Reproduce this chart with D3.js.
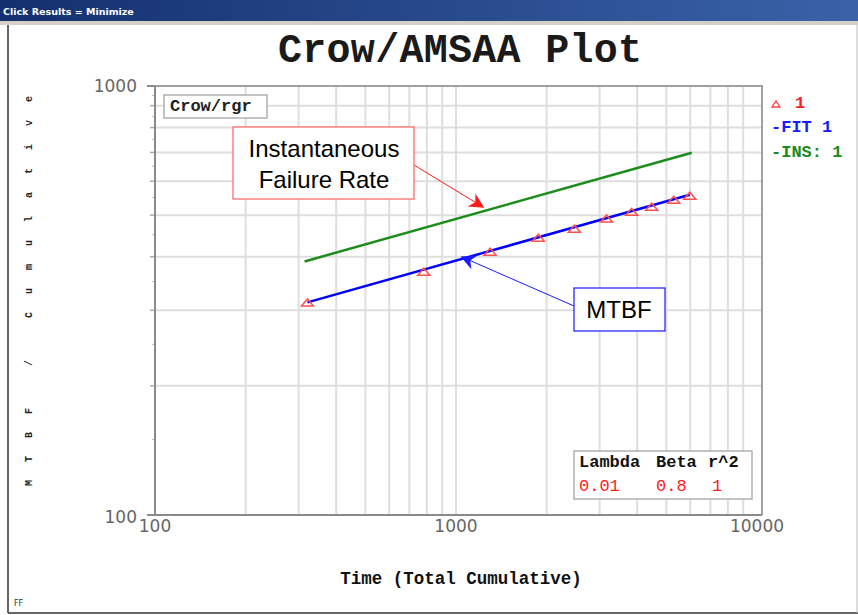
<!DOCTYPE html>
<html>
<head>
<meta charset="utf-8">
<script src="https://cdn.jsdelivr.net/npm/d3@7"></script>
<style>
  body { margin: 0; background: #fff; }
  svg { display: block; }
</style>
</head>
<body>
<div id="chart"></div>
<script>
// observed points (Time, cumulative MTBF)
const timeVals = [321, 782, 1298, 1876, 2474, 3162, 3831, 4467, 5289, 5979];
const mtbfVals = [313, 369, 411, 443, 465, 491, 509, 523, 543, 555];
// fitted line and instantaneous line end points
const fitTime = [321, 5979];
const fitMtbf = [313, 558];
const insTime = [314, 6070];
const insMtbf = [390, 699];
const xTicks = [100, 1000, 10000];
const yTicks = [100, 1000];
const xGrid = [200, 300, 400, 500, 600, 700, 800, 900, 1000, 2000, 3000, 4000, 5000, 6000, 7000, 8000, 9000];
const yGrid = [200, 300, 400, 500, 600, 700, 800, 900];
const yMinor = [150, 250, 350, 450, 550, 650, 750, 850, 950];
const paramNames = ["Lambda", "Beta", "r^2"];
const paramVals = ["0.01", "0.8", "1"];

const width = 858, height = 615;
const mono = "'Liberation Mono', 'Courier New', monospace";
const svg = d3.select("#chart").append("svg")
    .attr("width", width)
    .attr("height", height);

// window chrome
const defs = svg.append("defs");
const grad = defs.append("linearGradient").attr("id", "bar");
grad.append("stop").attr("offset", "0%").attr("stop-color", "#14306e");
grad.append("stop").attr("offset", "100%").attr("stop-color", "#3a62a8");
svg.append("rect").attr("x", 0).attr("y", 0).attr("width", width).attr("height", 21).attr("fill", "url(#bar)");
svg.append("rect").attr("x", 0).attr("y", 21).attr("width", width).attr("height", 4).attr("fill", "#d4d0c8");
svg.append("text").attr("x", 3).attr("y", 15)
    .attr("font-family", "Tahoma, 'DejaVu Sans', sans-serif").attr("font-size", 9.5).attr("font-weight", "bold")
    .attr("fill", "#fff").text("Click Results = Minimize");
svg.append("line").attr("x1", 8).attr("x2", 8).attr("y1", 25).attr("y2", 613).attr("stroke", "#333").attr("stroke-width", 1.5);
svg.append("line").attr("x1", 8).attr("x2", width).attr("y1", 613).attr("y2", 613).attr("stroke", "#333").attr("stroke-width", 1.5);
svg.append("line").attr("x1", 857).attr("x2", 857).attr("y1", 25).attr("y2", 613).attr("stroke", "#bbb");

const m = { left: 155, right: 757, top: 86, bottom: 515, frameRight: 762 };
const x = d3.scaleLog().domain([100, 10000]).range([m.left, m.right]);
const y = d3.scaleLog().domain([100, 1000]).range([m.bottom, m.top]);

// title
svg.append("text").attr("x", 460).attr("y", 62).attr("text-anchor", "middle")
    .attr("font-family", mono).attr("font-size", 40).attr("font-weight", "bold")
    .attr("textLength", 364).attr("fill", "#1a1a1a").text("Crow/AMSAA Plot");

// grid
svg.selectAll(".vgrid").data(xGrid).enter().append("line")
    .attr("x1", d => x(d)).attr("x2", d => x(d))
    .attr("y1", m.top).attr("y2", m.bottom)
    .attr("stroke", "#dedede").attr("stroke-width", 2);
svg.selectAll(".hgrid").data(yGrid).enter().append("line")
    .attr("x1", m.left).attr("x2", m.frameRight)
    .attr("y1", d => y(d)).attr("y2", d => y(d))
    .attr("stroke", "#dedede").attr("stroke-width", 2);
svg.selectAll(".hgridtick").data(yGrid).enter().append("line")
    .attr("x1", m.left - 5).attr("x2", m.left)
    .attr("y1", d => y(d)).attr("y2", d => y(d))
    .attr("stroke", "#aaa").attr("stroke-width", 1.5);
svg.selectAll(".yminor").data(yMinor).enter().append("line")
    .attr("x1", m.left - 3).attr("x2", m.left)
    .attr("y1", d => y(d)).attr("y2", d => y(d))
    .attr("stroke", "#bbb").attr("stroke-width", 1);

// frame
svg.append("path")
    .attr("d", `M${m.left},${m.bottom}V${m.top}H${m.frameRight}V${m.bottom}`)
    .attr("fill", "none").attr("stroke", "#a0a0a0").attr("stroke-width", 2);
svg.append("line").attr("x1", m.left).attr("x2", m.frameRight).attr("y1", m.bottom).attr("y2", m.bottom)
    .attr("stroke", "#8a8a8a").attr("stroke-width", 2);
svg.append("line").attr("x1", m.left).attr("x2", m.left).attr("y1", m.top).attr("y2", m.bottom)
    .attr("stroke", "#8a8a8a").attr("stroke-width", 2);
svg.append("line").attr("x1", m.left - 8).attr("x2", m.left).attr("y1", m.top).attr("y2", m.top)
    .attr("stroke", "#8a8a8a").attr("stroke-width", 2);
svg.append("line").attr("x1", m.left - 8).attr("x2", m.left).attr("y1", m.bottom).attr("y2", m.bottom)
    .attr("stroke", "#8a8a8a").attr("stroke-width", 2);

// tick labels
svg.selectAll(".xlab").data(xTicks).enter().append("text")
    .attr("x", d => x(d)).attr("y", 532).attr("text-anchor", "middle")
    .attr("font-family", "'DejaVu Sans', sans-serif").attr("font-size", 17)
    .attr("fill", "#666").text(d => d);
svg.selectAll(".ylab").data(yTicks).enter().append("text")
    .attr("x", 137).attr("y", d => y(d) + (d === 100 ? 8 : 6)).attr("text-anchor", "end")
    .attr("font-family", "'DejaVu Sans', sans-serif").attr("font-size", 17)
    .attr("fill", "#666").text(d => d);

// axis titles
svg.append("text").attr("x", 461).attr("y", 584).attr("text-anchor", "middle")
    .attr("font-family", mono).attr("font-size", 17.5).attr("font-weight", "bold")
    .attr("fill", "#111").text("Time (Total Cumulative)");
svg.append("text").attr("transform", "translate(32,486) rotate(-90)")
    .attr("font-family", mono).attr("font-size", 10).attr("font-weight", "bold")
    .attr("letter-spacing", 18).attr("fill", "#222").text("MTBF / Cumulative");
svg.append("text").attr("x", 14).attr("y", 606)
    .attr("font-family", "'DejaVu Sans', sans-serif").attr("font-size", 8)
    .attr("fill", "#333").text("FF");

// lines
const line = d3.line().x(d => x(d[0])).y(d => y(d[1]));
svg.append("path").datum(d3.zip(insTime, insMtbf))
    .attr("d", line).attr("fill", "none").attr("stroke", "#1c8c1c").attr("stroke-width", 2.5);
svg.append("path").datum(d3.zip(fitTime, fitMtbf))
    .attr("d", line).attr("fill", "none").attr("stroke", "#0000ff").attr("stroke-width", 2.5);

// observed triangles
const tri = (cx, cy, w, h) => `M${cx - w / 2},${cy + h / 2}L${cx},${cy - h / 2}L${cx + w / 2},${cy + h / 2}Z`;
svg.selectAll(".pt").data(d3.zip(timeVals, mtbfVals)).enter().append("path")
    .attr("d", d => tri(x(d[0]), y(d[1]), 12, 7))
    .attr("fill", "none").attr("stroke", "#ff5050").attr("stroke-width", 1.5);

// Crow/rgr box
svg.append("rect").attr("x", 164).attr("y", 95).attr("width", 103).attr("height", 23)
    .attr("fill", "#fff").attr("stroke", "#b0b0b0").attr("stroke-width", 1.5);
svg.append("text").attr("x", 170).attr("y", 111)
    .attr("font-family", mono).attr("font-size", 17).attr("font-weight", "bold")
    .attr("fill", "#222").text("Crow/rgr");

// legend
svg.append("path").attr("d", tri(776, 104, 8, 6)).attr("fill", "none").attr("stroke", "#ff4040").attr("stroke-width", 1.3);
const legendItems = [
    { y: 108, mark: "", label: "1", color: "#ff2020", x: 795 },
    { y: 132, mark: "-", label: "FIT 1", color: "#1a1aff", x: 771 },
    { y: 157, mark: "-", label: "INS: 1", color: "#1a8a1a", x: 771 }
];
legendItems.forEach(d => {
    svg.append("text").attr("x", d.x).attr("y", d.y)
        .attr("font-family", mono).attr("font-size", 17).attr("font-weight", "bold")
        .attr("fill", d.color).text(d.mark + d.label);
});

// parameters box
svg.append("rect").attr("x", 574).attr("y", 451).attr("width", 178).attr("height", 48)
    .attr("fill", "#fff").attr("stroke", "#b0b0b0").attr("stroke-width", 1.5);
const colX = [579, 656, 708];
paramNames.forEach((n, i) => {
    svg.append("text").attr("x", colX[i]).attr("y", 467)
        .attr("font-family", mono).attr("font-size", 17).attr("font-weight", "bold")
        .attr("fill", "#111").text(n);
});
const valX = [579, 656, 712];
paramVals.forEach((v, i) => {
    svg.append("text").attr("x", valX[i]).attr("y", 491)
        .attr("font-family", mono).attr("font-size", 17)
        .attr("fill", "#ff1a1a").text(v);
});

// callouts
[["arrRed", "#ff1a1a"], ["arrBlue", "#1a1aff"]].forEach(([id, c]) => {
    defs.append("marker").attr("id", id).attr("viewBox", "0 0 10 10")
        .attr("refX", 9).attr("refY", 5).attr("markerWidth", 15).attr("markerHeight", 15)
        .attr("markerUnits", "userSpaceOnUse").attr("orient", "auto")
        .append("path").attr("d", "M0,0L10,5L0,10L3,5Z").attr("fill", c);
});
svg.append("line").attr("x1", 414).attr("y1", 165).attr("x2", 483).attr("y2", 207)
    .attr("stroke", "#ff1a1a").attr("stroke-width", 1).attr("marker-end", "url(#arrRed)");
svg.append("line").attr("x1", 574).attr("y1", 306).attr("x2", 462).attr("y2", 257)
    .attr("stroke", "#1a1aff").attr("stroke-width", 1).attr("marker-end", "url(#arrBlue)");

svg.append("rect").attr("x", 233).attr("y", 127).attr("width", 181).attr("height", 72)
    .attr("fill", "#fff").attr("stroke", "#ff6060").attr("stroke-width", 1.2);
const sans = "'Liberation Sans', Arial, sans-serif";
svg.append("text").attr("x", 324).attr("y", 157).attr("text-anchor", "middle")
    .attr("font-family", sans).attr("font-size", 24).attr("fill", "#000").text("Instantaneous");
svg.append("text").attr("x", 324).attr("y", 188).attr("text-anchor", "middle")
    .attr("font-family", sans).attr("font-size", 24).attr("fill", "#000").text("Failure Rate");

svg.append("rect").attr("x", 574).attr("y", 288).attr("width", 91).attr("height", 43)
    .attr("fill", "#fff").attr("stroke", "#1a1aff").attr("stroke-width", 1.2);
svg.append("text").attr("x", 619).attr("y", 318).attr("text-anchor", "middle")
    .attr("font-family", sans).attr("font-size", 24).attr("fill", "#000").text("MTBF");
</script>
</body>
</html>
